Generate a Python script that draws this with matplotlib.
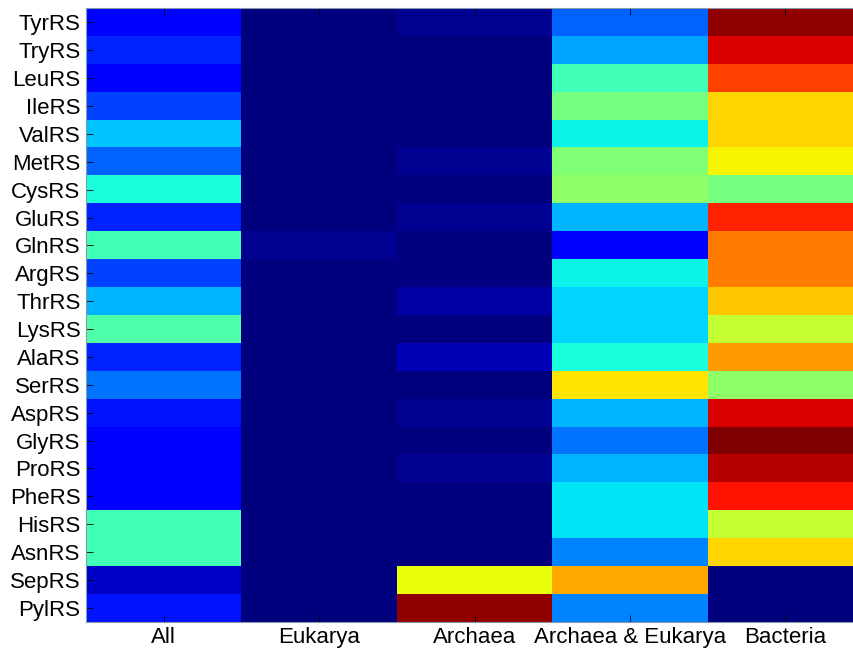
import numpy as np
import matplotlib
matplotlib.use("Agg")
from matplotlib import pyplot as plt

plt.rcParams['font.family'] = ['Liberation Sans', 'DejaVu Sans']

enzymes = ['TyrRS', 'TryRS', 'LeuRS', 'IleRS', 'ValRS', 'MetRS', 'CysRS', 'GluRS',
           'GlnRS', 'ArgRS', 'ThrRS', 'LysRS', 'AlaRS', 'SerRS', 'AspRS', 'GlyRS',
           'ProRS', 'PheRS', 'HisRS', 'AsnRS', 'SepRS', 'PylRS']
groups = ['All', 'Eukarya', 'Archaea', 'Archaea & Eukarya', 'Bacteria']

all_vals = [0.13, 0.17, 0.12, 0.20, 0.32, 0.22, 0.38, 0.17, 0.43, 0.20, 0.31,
            0.44, 0.17, 0.24, 0.15, 0.13, 0.12, 0.14, 0.43, 0.43, 0.07, 0.15]
eukarya = [0.0, 0.0, 0.0, 0.0, 0.0, 0.0, 0.0, 0.0, 0.02, 0.0, 0.0,
           0.0, 0.0, 0.0, 0.0, 0.0, 0.0, 0.0, 0.0, 0.0, 0.0, 0.0]
archaea = [0.02, 0.0, 0.0, 0.0, 0.0, 0.02, 0.0, 0.02, 0.0, 0.0, 0.04,
           0.0, 0.05, 0.0, 0.02, 0.0, 0.02, 0.0, 0.0, 0.0, 0.63, 0.97]
arch_euk = [0.22, 0.29, 0.43, 0.49, 0.36, 0.51, 0.53, 0.31, 0.12, 0.36, 0.33,
            0.33, 0.38, 0.67, 0.31, 0.24, 0.31, 0.35, 0.35, 0.25, 0.72, 0.25]
bacteria = [0.98, 0.91, 0.83, 0.68, 0.68, 0.645, 0.49, 0.86, 0.78, 0.78, 0.69,
            0.58, 0.74, 0.53, 0.92, 1.0, 0.94, 0.88, 0.58, 0.68, 0.0, 0.0]

data = np.array([all_vals, eukarya, archaea, arch_euk, bacteria]).T

fig = plt.figure(figsize=(8.54, 6.51), dpi=100)
ax = fig.add_axes([0.1007, 0.045, 0.91, 0.942])
ax.imshow(data, cmap=plt.get_cmap('jet', 64), vmin=0, vmax=1,
          aspect='auto', interpolation='nearest')

ax.set_xticks(range(len(groups)))
ax.set_xticklabels(groups, fontsize=16)
ax.set_yticks(range(len(enzymes)))
ax.set_yticklabels(enzymes, fontsize=16)
ax.tick_params(direction='in', length=5, width=0.6, top=True, right=True, pad=4)
for s in ax.spines.values():
    s.set_color('#8899aa')
    s.set_linewidth(0.8)

fig.savefig('out.png', dpi=100)
